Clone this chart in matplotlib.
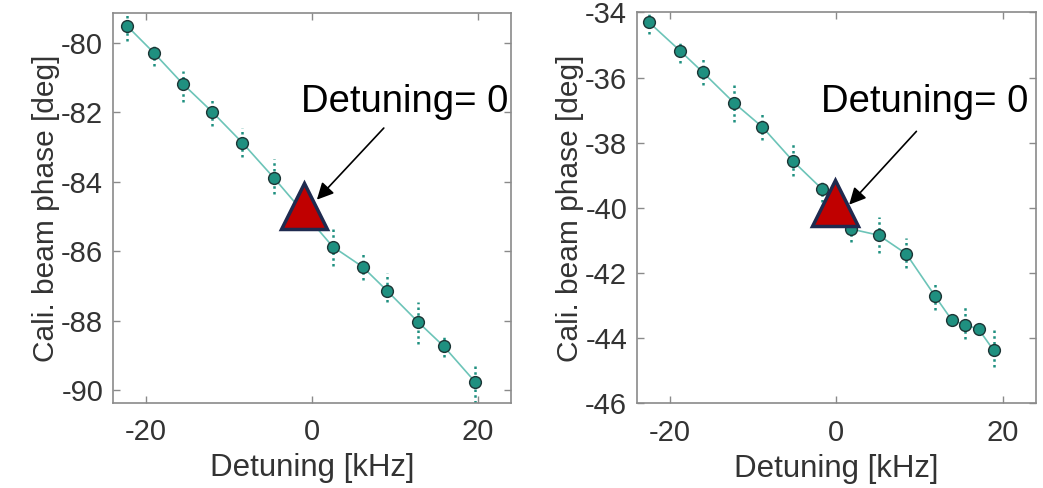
import matplotlib
matplotlib.use("Agg")
import matplotlib.pyplot as plt
import numpy as np

# ---- data: left panel ----
left_x = [-22.3, -19.0, -15.6, -12.0, -8.4, -4.6, 2.5, 6.1, 9.1, 12.8, 15.9, 19.7]
left_y = [-79.52, -80.31, -81.18, -82.00, -82.88, -83.89, -85.87, -86.45, -87.15, -88.04, -88.74, -89.77]
left_lo = [-79.94, -80.66, -81.70, -82.40, -83.29, -84.37, -86.43, -86.82, -87.46, -88.66, -89.05, -90.38]
left_hi = [-79.11, -80.07, -80.81, -81.58, -82.45, -83.36, -85.33, -86.07, -86.63, -87.46, -88.42, -89.29]
left_zero = (-0.96, -84.69)

# ---- data: right panel ----
right_x = [-22.6, -18.8, -16.1, -12.3, -8.9, -5.2, -1.7, 1.8, 5.1, 8.4, 11.9, 13.9, 15.5, 17.1, 18.9]
right_y = [-34.29, -35.18, -35.83, -36.78, -37.52, -38.57, -39.43, -40.65, -40.84, -41.41,
           -42.72, -43.45, -43.59, -43.72, -44.37]
right_lo = [-34.66, -35.55, -36.24, -37.37, -37.91, -39.01, -39.81, -41.04, -41.40, -41.86,
            -43.15, -43.50, -44.04, -43.76, -44.89]
right_hi = [-33.94, -34.88, -35.40, -36.17, -37.12, -38.04, -39.12, -40.38, -40.27, -40.92,
            -42.32, -43.40, -43.04, -43.68, -43.76]
right_zero = (-0.2, -39.85)

xticks = [-20, 0, 20]
left_yticks = [-90, -88, -86, -84, -82, -80]
right_yticks = [-46, -44, -42, -40, -38, -36, -34]

plt.rcParams['font.family'] = ['Liberation Sans', 'DejaVu Sans']
plt.rcParams['axes.unicode_minus'] = False

line_col = '#6cc4b8'
dot_col = '#1f9080'
edge_col = '#1c3535'
frame_col = '#8a8a8a'
text_col = '#333333'

fig = plt.figure(figsize=(10.43, 4.88), dpi=100)
ax1 = fig.add_axes([0.1083, 0.1742, 0.3816, 0.799])
ax2 = fig.add_axes([0.6107, 0.1735, 0.3825, 0.801])


def draw_panel(ax, x, y, lo, hi, zero, yticks, ylim, text_xy, arrow_start, arrow_tip):
    # raw measurement spread
    ax.vlines(x, lo, hi, colors=dot_col, linestyles=(0, (1, 1.3)), linewidth=1.8, zorder=2)
    ax.plot(x, y, color=line_col, linewidth=1.2, zorder=3)
    ax.plot(x, y, 'o', markersize=8.5, markerfacecolor=dot_col,
            markeredgecolor=edge_col, markeredgewidth=1.0, zorder=4)
    ax.plot([zero[0]], [zero[1]], '^', markersize=33, markerfacecolor='#c00000',
            markeredgecolor='#1f2a4f', markeredgewidth=2.5, zorder=5)

    ax.set_xlim(-24, 24)
    ax.set_ylim(*ylim)
    ax.set_xticks(xticks)
    ax.set_yticks(yticks)
    ax.tick_params(direction='in', top=True, right=True, length=5, width=1,
                   color=frame_col, labelcolor=text_col, labelsize=21)
    ax.tick_params(axis='x', pad=11)
    ax.tick_params(axis='y', pad=7)
    for s in ax.spines.values():
        s.set_color(frame_col)
        s.set_linewidth(1.2)
    ax.set_xlabel('Detuning [kHz]', fontsize=22.5, color=text_col, labelpad=5)
    ax.set_ylabel('Cali. beam phase [deg]', fontsize=21.5, color=text_col, labelpad=1)

    # annotation drawn in pixel coordinates of the figure
    ax.annotate('', xy=arrow_tip, xycoords='figure pixels',
                xytext=arrow_start, textcoords='figure pixels',
                arrowprops=dict(arrowstyle='-|>,head_length=1.0,head_width=0.5',
                                color='black', lw=1.2), zorder=6)
    fig.text(text_xy[0], text_xy[1], 'Detuning= 0', transform=None,
             fontsize=27.5, color='black', ha='left', va='baseline', zorder=7)


H = 488
draw_panel(ax1, left_x, left_y, left_lo, left_hi, left_zero, left_yticks, (-90.37, -79.15),
           (301, H - 112), (385.7, H - 126), (315, H - 201.7))
draw_panel(ax2, right_x, right_y, right_lo, right_hi, right_zero, right_yticks, (-46, -34),
           (821, H - 112), (918.3, H - 129.3), (847.3, H - 206.7))

fig.savefig('out.png', dpi=100)
